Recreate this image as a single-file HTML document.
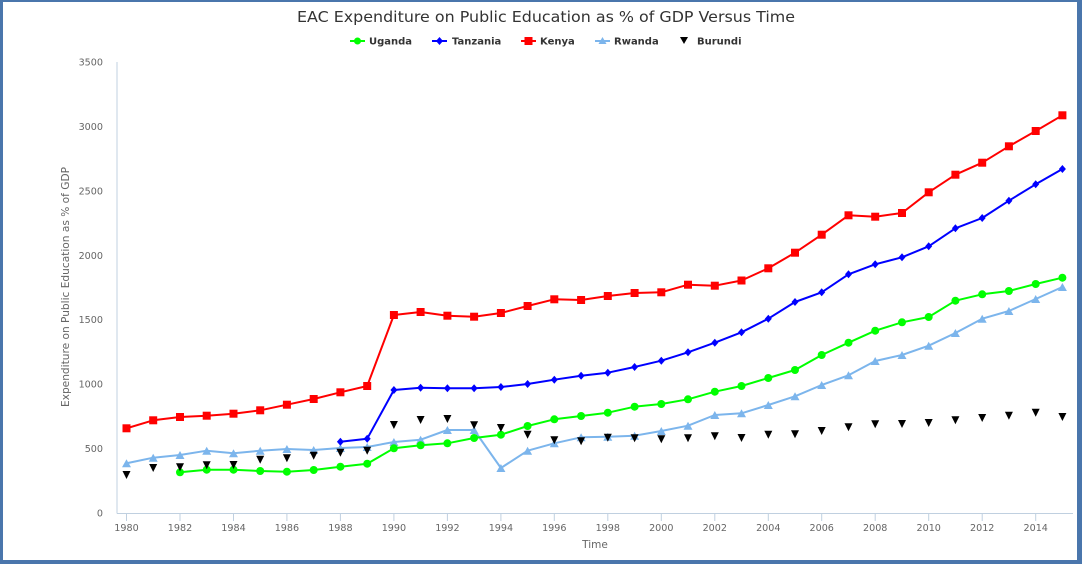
<!DOCTYPE html>
<html><head><meta charset="utf-8"><style>
html,body{margin:0;padding:0;background:#fff;}
body{width:1082px;height:564px;overflow:hidden;position:relative;}
svg{position:absolute;left:0;top:0;}
</style></head><body>
<svg width="1082" height="564" viewBox="0 0 1082 564" xmlns="http://www.w3.org/2000/svg">
<defs>
<marker id="mSq" markerUnits="userSpaceOnUse" markerWidth="12" markerHeight="12" refX="6" refY="6" overflow="visible"><rect x="2" y="2" width="8" height="8" fill="#ff0000"/></marker>
<marker id="mCi" markerUnits="userSpaceOnUse" markerWidth="12" markerHeight="12" refX="6" refY="6" overflow="visible"><circle cx="6" cy="6" r="4" fill="#00ff00"/></marker>
<marker id="mDi" markerUnits="userSpaceOnUse" markerWidth="12" markerHeight="12" refX="6" refY="6" overflow="visible"><polygon points="6,2 9.5,6 6,10 2.5,6" fill="#0000ff"/></marker>
<marker id="mTu" markerUnits="userSpaceOnUse" markerWidth="12" markerHeight="12" refX="6" refY="6" overflow="visible"><polygon points="6,2 10.5,10 1.5,10" fill="#7cb5ec"/></marker>
<marker id="mTd" markerUnits="userSpaceOnUse" markerWidth="12" markerHeight="12" refX="6" refY="6" overflow="visible"><polygon points="2,2 10,2 6,10" fill="#000000"/></marker>
</defs>

<!-- frame -->
<rect x="0" y="0" width="1082" height="2" fill="#4a76ac"/>
<rect x="0" y="0" width="3" height="564" fill="#4a76ac"/>
<rect x="1077" y="0" width="5" height="564" fill="#4a76ac"/>
<rect x="0" y="560" width="1082" height="4" fill="#4a76ac"/>

<!-- title -->
<text x="546" y="22" text-anchor="middle" font-family="DejaVu Sans, Liberation Sans, sans-serif" font-size="15.5" fill="#333" textLength="498" lengthAdjust="spacingAndGlyphs">EAC Expenditure on Public Education as % of GDP Versus Time</text>

<!-- legend -->
<g font-family="DejaVu Sans, Liberation Sans, sans-serif" font-size="10" font-weight="bold" fill="#333">
<line x1="350" y1="41" x2="365" y2="41" stroke="#00ff00" stroke-width="2"/><circle cx="357.5" cy="41" r="3.5" fill="#00ff00"/>
<text x="369" y="44.5">Uganda</text>
<line x1="432" y1="41" x2="447" y2="41" stroke="#0000ff" stroke-width="2"/><polygon points="439.5,37 443,41 439.5,45 436,41" fill="#0000ff"/>
<text x="452" y="44.5">Tanzania</text>
<line x1="521" y1="41" x2="536" y2="41" stroke="#ff0000" stroke-width="2"/><rect x="524.5" y="37" width="8" height="8" fill="#ff0000"/>
<text x="540" y="44.5">Kenya</text>
<line x1="595" y1="41" x2="610" y2="41" stroke="#7cb5ec" stroke-width="2"/><polygon points="602.5,37 606.5,44 598.5,44" fill="#7cb5ec"/>
<text x="614" y="44.5">Rwanda</text>
<polygon points="680,37 688,37 684,44" fill="#000"/>
<text x="697" y="44.5">Burundi</text>
</g>

<!-- axes -->
<line x1="117" y1="62" x2="117" y2="513.5" stroke="#c0d0e0" stroke-width="1"/>
<line x1="117" y1="513.5" x2="1073" y2="513.5" stroke="#c0d0e0" stroke-width="1"/>
<g stroke="#c0d0e0" stroke-width="1">
<line x1="126.5" y1="513" x2="126.5" y2="521"/><line x1="180" y1="513" x2="180" y2="521"/><line x1="233.5" y1="513" x2="233.5" y2="521"/><line x1="286.9" y1="513" x2="286.9" y2="521"/><line x1="340.4" y1="513" x2="340.4" y2="521"/><line x1="393.9" y1="513" x2="393.9" y2="521"/><line x1="447.4" y1="513" x2="447.4" y2="521"/><line x1="500.9" y1="513" x2="500.9" y2="521"/><line x1="554.3" y1="513" x2="554.3" y2="521"/><line x1="607.8" y1="513" x2="607.8" y2="521"/><line x1="661.3" y1="513" x2="661.3" y2="521"/><line x1="714.8" y1="513" x2="714.8" y2="521"/><line x1="768.3" y1="513" x2="768.3" y2="521"/><line x1="821.7" y1="513" x2="821.7" y2="521"/><line x1="875.2" y1="513" x2="875.2" y2="521"/><line x1="928.7" y1="513" x2="928.7" y2="521"/><line x1="982.2" y1="513" x2="982.2" y2="521"/><line x1="1035.7" y1="513" x2="1035.7" y2="521"/>
</g>

<!-- y labels -->
<g font-family="DejaVu Sans, Liberation Sans, sans-serif" font-size="9.6" fill="#666" text-anchor="end">
<text x="103" y="516.5">0</text>
<text x="103" y="452">500</text>
<text x="103" y="387.6">1000</text>
<text x="103" y="323.2">1500</text>
<text x="103" y="258.8">2000</text>
<text x="103" y="194.3">2500</text>
<text x="103" y="129.9">3000</text>
<text x="103" y="65.5">3500</text>
</g>
<text transform="translate(69,287) rotate(-90)" text-anchor="middle" font-family="DejaVu Sans, Liberation Sans, sans-serif" font-size="10.5" fill="#666" textLength="240" lengthAdjust="spacingAndGlyphs">Expenditure on Public Education as % of GDP</text>

<!-- x labels -->
<g font-family="DejaVu Sans, Liberation Sans, sans-serif" font-size="9.6" fill="#666" text-anchor="middle">
<text x="126.5" y="531">1980</text><text x="180" y="531">1982</text><text x="233.5" y="531">1984</text><text x="286.9" y="531">1986</text><text x="340.4" y="531">1988</text><text x="393.9" y="531">1990</text><text x="447.4" y="531">1992</text><text x="500.9" y="531">1994</text><text x="554.3" y="531">1996</text><text x="607.8" y="531">1998</text><text x="661.3" y="531">2000</text><text x="714.8" y="531">2002</text><text x="768.3" y="531">2004</text><text x="821.7" y="531">2006</text><text x="875.2" y="531">2008</text><text x="928.7" y="531">2010</text><text x="982.2" y="531">2012</text><text x="1035.7" y="531">2014</text>
</g>
<text x="595" y="548" text-anchor="middle" font-family="DejaVu Sans, Liberation Sans, sans-serif" font-size="10.5" fill="#666">Time</text>

<!-- Rwanda -->
<polyline fill="none" stroke="#7cb5ec" stroke-width="2" stroke-linejoin="round" marker-start="url(#mTu)" marker-mid="url(#mTu)" marker-end="url(#mTu)" points="126.5,463.3 153.2,457.7 180,455 206.7,450.7 233.5,453.3 260.2,450.7 286.9,449 313.7,450 340.4,448 367.2,447 393.9,442 420.6,439.7 447.4,430 474.1,430 500.9,468 527.6,450.7 554.3,443.3 581.1,437.3 607.8,436.7 634.6,435.7 661.3,431 688,425.7 714.8,415 741.5,413.3 768.3,405 795,396.3 821.7,385 848.5,375.3 875.2,361 902,355 928.7,345.7 955.4,333 982.2,318.7 1008.9,311 1035.7,299 1062.4,287"/>

<!-- Uganda -->
<polyline fill="none" stroke="#00ff00" stroke-width="2" stroke-linejoin="round" marker-start="url(#mCi)" marker-mid="url(#mCi)" marker-end="url(#mCi)" points="180,472.3 206.7,469.7 233.5,469.7 260.2,471 286.9,471.7 313.7,470 340.4,466.7 367.2,463.7 393.9,448.3 420.6,445.3 447.4,443.3 474.1,438 500.9,434.7 527.6,426 554.3,419.3 581.1,416 607.8,412.7 634.6,406.7 661.3,404 688,399.3 714.8,391.7 741.5,386 768.3,378 795,370 821.7,355 848.5,342.7 875.2,330.7 902,322.3 928.7,317 955.4,300.7 982.2,294.3 1008.9,291 1035.7,284 1062.4,277.7"/>

<!-- Tanzania -->
<polyline fill="none" stroke="#0000ff" stroke-width="2" stroke-linejoin="round" marker-start="url(#mDi)" marker-mid="url(#mDi)" marker-end="url(#mDi)" points="340.4,441.7 367.2,438.7 393.9,390 420.6,387.7 447.4,388.3 474.1,388.3 500.9,387 527.6,384 554.3,379.7 581.1,375.7 607.8,372.7 634.6,367 661.3,360.7 688,352.3 714.8,342.7 741.5,332.3 768.3,318.7 795,302 821.7,292.3 848.5,274.3 875.2,264.3 902,257.3 928.7,246.3 955.4,228.3 982.2,218 1008.9,200.7 1035.7,184.3 1062.4,169"/>

<!-- Kenya -->
<polyline fill="none" stroke="#ff0000" stroke-width="2" stroke-linejoin="round" marker-start="url(#mSq)" marker-mid="url(#mSq)" marker-end="url(#mSq)" points="126.5,428.3 153.2,420.3 180,417 206.7,415.7 233.5,413.7 260.2,410.3 286.9,404.7 313.7,399 340.4,392.3 367.2,386 393.9,315 420.6,312 447.4,315.7 474.1,316.7 500.9,313 527.6,306 554.3,299.3 581.1,300 607.8,296 634.6,293 661.3,292.3 688,284.7 714.8,285.7 741.5,280.5 768.3,268.3 795,252.7 821.7,234.7 848.5,215.3 875.2,216.7 902,213 928.7,192.3 955.4,174.7 982.2,162.7 1008.9,146.3 1035.7,131 1062.4,115.3"/>

<!-- Burundi -->
<polyline fill="none" stroke="none" marker-start="url(#mTd)" marker-mid="url(#mTd)" marker-end="url(#mTd)" points="126.5,475 153.2,468 180,467.3 206.7,465.3 233.5,465 260.2,459.7 286.9,458.3 313.7,455.7 340.4,452.7 367.2,450.7 393.9,425 420.6,420 447.4,419 474.1,425.3 500.9,428 527.6,434.7 554.3,440.3 581.1,441.3 607.8,437.7 634.6,438.3 661.3,439.3 688,438.3 714.8,436.3 741.5,438 768.3,434.7 795,434.3 821.7,431 848.5,427.3 875.2,424.3 902,424 928.7,423 955.4,420.3 982.2,418 1008.9,415.7 1035.7,412.7 1062.4,417"/>
</svg>
</body></html>
